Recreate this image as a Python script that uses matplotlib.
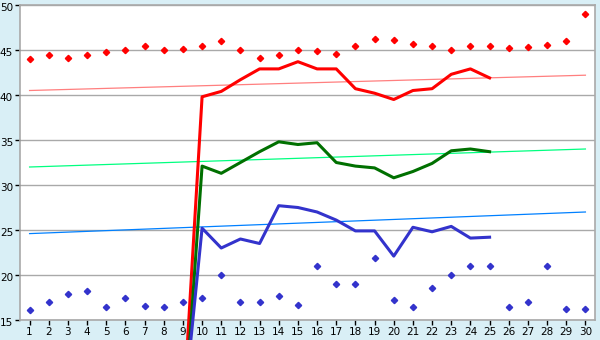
import numpy as np
import matplotlib
matplotlib.use("Agg")
import matplotlib.pyplot as plt
import matplotlib.transforms as mtransforms

days = list(range(1, 31))

# scatter points (top red, bottom blue)
red_pts = [44.0, 44.5, 44.1, 44.5, 44.8, 45.0, 45.5, 45.0, 45.1, 45.4,
           46.0, 45.0, 44.1, 44.5, 45.0, 44.9, 44.6, 45.5, 46.2, 46.1,
           45.7, 45.5, 45.0, 45.5, 45.5, 45.2, 45.3, 45.6, 46.0, 49.0]
blue_pts = [16.1, 17.0, 17.9, 18.2, 16.5, 17.5, 16.6, 16.4, 17.0, 17.5,
            20.0, 17.0, 17.0, 17.7, 16.7, 21.0, 19.0, 19.0, 21.9, 17.2,
            16.4, 18.6, 20.0, 21.0, 21.0, 16.4, 17.0, 21.0, 16.2, 16.2]

# lines, day 9 .. 25
line_days = list(range(9, 26))
red_line = [4.0, 39.8, 40.4, 41.7, 42.9, 42.9, 43.7, 42.9, 42.9, 40.7,
            40.2, 39.5, 40.5, 40.7, 42.3, 42.9, 41.9]
green_line = [2.0, 32.1, 31.3, 32.5, 33.7, 34.8, 34.5, 34.7, 32.5, 32.1,
              31.9, 30.8, 31.5, 32.4, 33.8, 34.0, 33.7]
blue_line = [4.0, 25.2, 23.0, 24.0, 23.5, 27.7, 27.5, 27.0, 26.1, 24.9,
             24.9, 22.1, 25.3, 24.8, 25.4, 24.1, 24.2]

# trend lines (start day 1, end day 30)
trend_x = [1, 30]
red_trend = [40.5, 42.2]
green_trend = [32.0, 34.0]
blue_trend = [24.6, 27.0]

bg = "#d9eff6"
gridc = "#a9a9a9"

fig = plt.figure(figsize=(6, 3.4), dpi=100, facecolor=bg)
ax = fig.add_axes([20/600, 1 - 320/340, 575/600, 315/340])
ax.set_facecolor("white")

ax.set_xlim(0.5, 30.5)
ax.set_ylim(15, 50)
ax.set_yticks(range(15, 51, 5))
ax.set_xticks(days)
ax.grid(axis="y", color=gridc, linewidth=1.0)
ax.set_axisbelow(True)
for s in ax.spines.values():
    s.set_color(gridc)
    s.set_linewidth(1.2)
ax.tick_params(axis="both", color="black", length=3.5, width=1, labelsize=7.5,
               pad=1.5, labelcolor="black")
# nudge y labels down a touch so "50" isn't cut at the top
shift = mtransforms.ScaledTranslation(0, -1.5/72, fig.dpi_scale_trans)
for t in ax.get_yticklabels():
    t.set_transform(t.get_transform() + shift)

ax.plot(trend_x, red_trend, color="#ff7f7f", lw=0.9)
ax.plot(trend_x, green_trend, color="#00ff80", lw=0.9)
ax.plot(trend_x, blue_trend, color="#0080ff", lw=0.9)

ax.plot(line_days, red_line, color="#ff0000", lw=2.2, clip_on=False, zorder=4)
ax.plot(line_days, green_line, color="#007000", lw=2.2, clip_on=False, zorder=4)
ax.plot(line_days, blue_line, color="#3333cc", lw=2.2, clip_on=False, zorder=4)

ax.plot(days, red_pts, ls="none", marker="D", ms=3.2, color="#ff0000")
ax.plot(days, blue_pts, ls="none", marker="D", ms=3.2, color="#3333cc")

fig.savefig("out.png", dpi=100, facecolor=bg)
